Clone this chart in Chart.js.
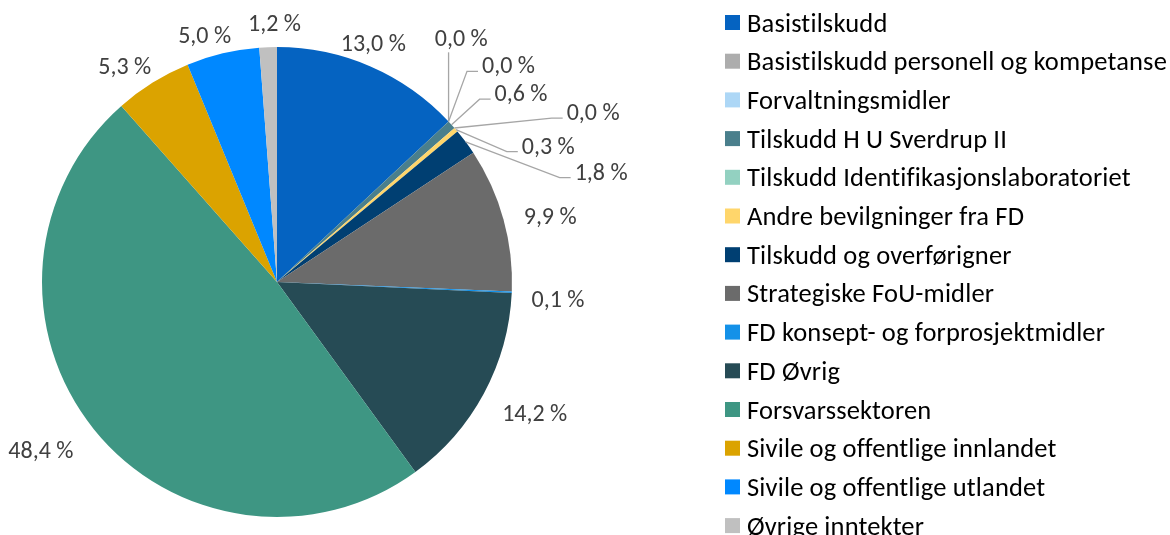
<!DOCTYPE html>
<html>
<head>
<meta charset="utf-8">
<script src="https://cdn.jsdelivr.net/npm/chart.js@4.4.1/dist/chart.umd.min.js"></script>
<style>
  html, body { margin: 0; padding: 0; background: #fff; }
  #chart-render { width: 1170px; height: 535px; }
</style>
</head>
<body>
<div id="chart-render"><canvas id="fundingPie" width="1170" height="535"></canvas></div>
<script>
const categories = [
  'Basistilskudd',
  'Basistilskudd personell og kompetanse',
  'Forvaltningsmidler',
  'Tilskudd H U Sverdrup II',
  'Tilskudd Identifikasjonslaboratoriet',
  'Andre bevilgninger fra FD',
  'Tilskudd og overførigner',
  'Strategiske FoU-midler',
  'FD konsept- og forprosjektmidler',
  'FD Øvrig',
  'Forsvarssektoren',
  'Sivile og offentlige innlandet',
  'Sivile og offentlige utlandet',
  'Øvrige inntekter',
];
const shares = [13.0, 0.0, 0.0, 0.6, 0.0, 0.3, 1.8, 9.9, 0.1, 14.2, 48.4, 5.3, 5.0, 1.2];
const sliceColors = [
  '#0563C1', '#ADADAD', '#ADD7F6', '#4A7F8C', '#93D1C1', '#FFD66B', '#003F72',
  '#6B6B6B', '#1491E8', '#264B55', '#3E9683', '#DBA300', '#0088FF', '#C0C0C0',
];

// label placement: distance from centre (x radius) and turn from slice middle (deg)
const labelRadius = [1.096, 1.30, 1.349, 1.313, 1.527, 1.292, 1.457, 1.196, 1.198, 1.23, 1.234, 1.123, 1.094, 1.102];
const labelTurn = [-1.5, -9.8, 0, 4.3, 12.7, 13.7, 17.8, 1.9, 1.0, -1.4, 3.3, -3.3, -3.0, 1.6];
const hasLeader = [false, true, true, true, true, true, true, false, false, false, false, false, false, false];

const fontFamily = 'Carlito, Lato, sans-serif';

const pctLabels = {
  id: 'pctLabels',
  afterDatasetsDraw(chart) {
    const ctx = chart.ctx;
    const arcs = chart.getDatasetMeta(0).data;
    ctx.save();
    ctx.font = `24px ${fontFamily}`;
    ctx.textAlign = 'center';
    ctx.textBaseline = 'alphabetic';
    ctx.strokeStyle = '#A6A6A6';
    ctx.lineWidth = 1.3;
    arcs.forEach((arc, i) => {
      const { x, y, startAngle, endAngle, outerRadius } = arc.getProps(['x', 'y', 'startAngle', 'endAngle', 'outerRadius'], true);
      const mid = (startAngle + endAngle) / 2;
      const a = mid + labelTurn[i] * Math.PI / 180;
      const lx = x + labelRadius[i] * outerRadius * Math.cos(a);
      const ly = y + labelRadius[i] * outerRadius * Math.sin(a);
      const text = shares[i].toFixed(1).replace('.', ',') + ' %';
      const w = ctx.measureText(text).width;
      if (hasLeader[i]) {
        const ex = x + outerRadius * Math.cos(mid);
        const ey = y + outerRadius * Math.sin(mid);
        const left = lx - w / 2;
        ctx.beginPath();
        ctx.moveTo(ex, ey);
        if (left - ex > 20) {
          ctx.lineTo(left - 15, ly + 6);
          ctx.lineTo(left - 4, ly + 6);
        } else {
          ctx.lineTo(ex, ly + 14);
        }
        ctx.stroke();
      }
      ctx.fillStyle = '#404040';
      ctx.fillText(text, lx, ly + 8);
    });
    ctx.restore();
  },
};

// legend drawn by hand so the rows line up like the original
const sideLegend = {
  id: 'sideLegend',
  afterDraw(chart) {
    const ctx = chart.ctx;
    ctx.save();
    ctx.font = `26.5px ${fontFamily}`;
    ctx.letterSpacing = '0.15px'; // also breaks the "ti" ligature
    ctx.textAlign = 'left';
    ctx.textBaseline = 'alphabetic';
    categories.forEach((name, i) => {
      const cy = 22.5 + i * 38.7;
      ctx.fillStyle = sliceColors[i];
      ctx.fillRect(725, cy - 7.5, 15, 15);
      ctx.fillStyle = '#000';
      ctx.fillText(name, 747, cy + 9);
    });
    ctx.restore();
  },
};

const ctx = document.getElementById('fundingPie');
new Chart(ctx, {
  type: 'pie',
  data: {
    labels: categories,
    datasets: [{
      data: shares,
      backgroundColor: sliceColors,
      borderWidth: 0,
    }],
  },
  options: {
    responsive: false,
    animation: false,
    devicePixelRatio: 1,
    layout: { padding: { left: 42, top: 47, right: 658, bottom: 18 } },
    plugins: {
      legend: { display: false },
      tooltip: { enabled: false },
    },
  },
  plugins: [pctLabels, sideLegend],
});
</script>
</body>
</html>
